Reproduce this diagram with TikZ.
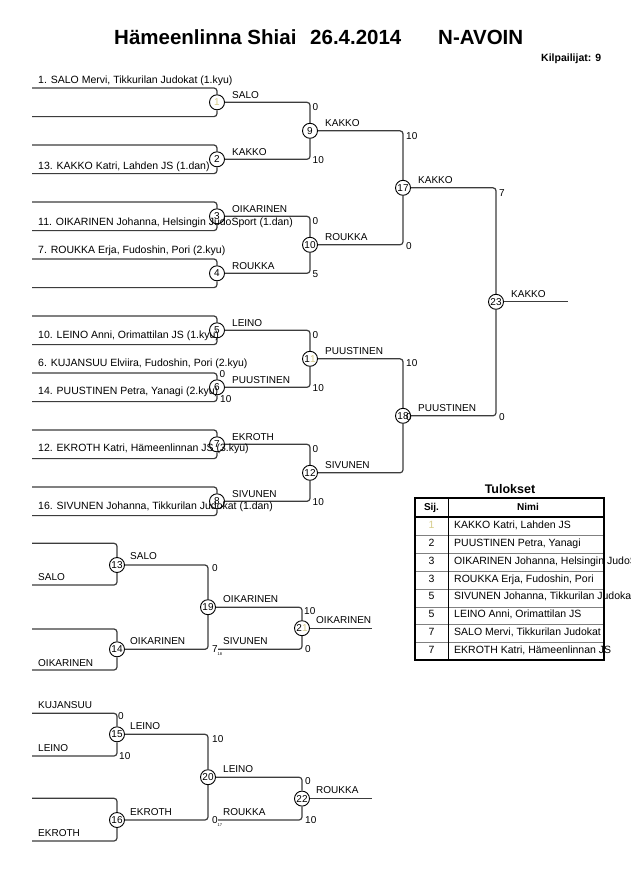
\documentclass[tikz,border=0pt]{standalone}
\usepackage{fontspec}
\setmainfont{Liberation Sans}
\definecolor{pale}{RGB}{215,205,140}
\definecolor{lncol}{RGB}{60,60,60}
\tikzset{
  ln/.style={draw=lncol, line width=1.2pt, rounded corners=3pt},
  mc/.style={circle, draw=black, fill=white, line width=0.9pt, minimum size=15pt, inner sep=0pt, font=\fontsize{10}{10}\selectfont},
  ctext/.style={anchor=base west, inner sep=0pt, font=\fontsize{10.5}{12}\selectfont},
  lab/.style={anchor=base west, inner sep=0pt, font=\fontsize{10}{12}\selectfont},
  sc/.style={anchor=base west, inner sep=0pt, font=\fontsize{10}{12}\selectfont},
  subsc/.style={anchor=base west, inner sep=0pt, font=\fontsize{4}{4}\selectfont},
  ttl/.style={anchor=base west, inner sep=0pt, font=\bfseries\fontsize{20.5}{22}\selectfont},
  bsm/.style={anchor=base west, inner sep=0pt, font=\bfseries\fontsize{10.5}{12}\selectfont},
  cell/.style={anchor=base west, inner sep=0pt, font=\fontsize{10.5}{12}\selectfont},
  cellc/.style={anchor=base, inner sep=0pt, font=\fontsize{10.5}{12}\selectfont},
}
\begin{document}
\begin{tikzpicture}[x=1pt,y=-1pt]
\fill[white] (0,0) rectangle (630,891);
\useasboundingbox (0,0) rectangle (630,891);

% title
\node[ttl] (t1) at (114,44.5) {Hämeenlinna Shiai};
\node[ttl] (t2) at (310,44.5) {26.4.2014};
\node[ttl] (t3) at (438,44.5) {N-AVOIN};
\node[bsm] (kp) at (541,61.7) {Kilpailijat: 9};

% main bracket circles
\node[mc] (c1) at (217,102.3) {\textcolor{pale}{1}};
\node[mc] (c2) at (217,159.3) {2};
\node[mc] (c3) at (217,216.3) {3};
\node[mc] (c4) at (217,273.3) {4};
\node[mc] (c5) at (217,330.3) {5};
\node[mc] (c6) at (217,387.3) {6};
\node[mc] (c7) at (217,444.3) {7};
\node[mc] (c8) at (217,501.3) {8};
\node[mc] (c9) at (310,130.8) {9};
\node[mc] (c10) at (310,244.8) {10};
\node[mc] (c11) at (310,358.8) {1\textcolor{pale}{1}};
\node[mc] (c12) at (310,472.8) {12};
\node[mc] (c17) at (403,187.8) {17};
\node[mc] (c18) at (403,415.8) {18};
\node[mc] (c23) at (496,301.8) {23};

% repechage circles
\node[mc] (c13) at (117,565) {13};
\node[mc] (c14) at (117,649.3) {14};
\node[mc] (c15) at (117,734.3) {15};
\node[mc] (c16) at (117,820) {16};
\node[mc] (c19) at (208,607.2) {19};
\node[mc] (c20) at (208,777.2) {20};
\node[mc] (c21) at (302,628.2) {2\textcolor{pale}{1}};
\node[mc] (c22) at (302,798.6) {22};

% start / end coordinates
\foreach \k in {1,...,8}{
  \pgfmathsetmacro{\ya}{88+57*(\k-1)}
  \pgfmathsetmacro{\yb}{88+57*(\k-1)+28.6}
  \coordinate (p\k a) at (32,\ya);
  \coordinate (p\k b) at (32,\yb);
}
\coordinate (q13a) at (32,543.3);
\coordinate (q13b) at (32,585);
\coordinate (q14a) at (32,629);
\coordinate (q14b) at (32,670);
\coordinate (q15a) at (32,713.3);
\coordinate (q15b) at (32,756);
\coordinate (q16a) at (32,798.3);
\coordinate (q16b) at (32,841);
\coordinate (s21) at (218,649.3);
\coordinate (s22) at (218,820);
\coordinate (e23) at (568,301.8);
\coordinate (e21) at (372,628.2);
\coordinate (e22) at (372,798.6);

% first round lines
\foreach \k in {1,...,8}{
  \draw[ln] (p\k a) -| (c\k);
  \draw[ln] (p\k b) -| (c\k);
}
\foreach \a/\b in {c1/c9,c2/c9,c3/c10,c4/c10,c5/c11,c6/c11,c7/c12,c8/c12,
                   c9/c17,c10/c17,c11/c18,c12/c18,c17/c23,c18/c23,
                   q13a/c13,q13b/c13,q14a/c14,q14b/c14,q15a/c15,q15b/c15,q16a/c16,q16b/c16,
                   c13/c19,c14/c19,c19/c21,s21/c21,c15/c20,c16/c20,c20/c22,s22/c22}{
  \draw[ln] (\a) -| (\b);
}
\draw[ln] (c23) -- (e23);
\draw[ln] (c21) -- (e21);
\draw[ln] (c22) -- (e22);

% competitor texts
\node[ctext] (n1) at (38,83) {1. SALO Mervi, Tikkurilan Judokat (1.kyu)};
\node[ctext] (n13) at (38,169) {13. KAKKO Katri, Lahden JS (1.dan)};
\node[ctext] (n11) at (38,225) {11. OIKARINEN Johanna, Helsingin JudoSport (1.dan)};
\node[ctext] (n7) at (38,253) {7. ROUKKA Erja, Fudoshin, Pori (2.kyu)};
\node[ctext] (n10) at (38,338) {10. LEINO Anni, Orimattilan JS (1.kyu)};
\node[ctext] (n6) at (38,366.5) {6. KUJANSUU Elviira, Fudoshin, Pori (2.kyu)};
\node[ctext] (n14) at (38,394) {14. PUUSTINEN Petra, Yanagi (2.kyu)};
\node[ctext] (n12) at (38,451.5) {12. EKROTH Katri, Hämeenlinnan JS (3.kyu)};
\node[ctext] (n16) at (38,509) {16. SIVUNEN Johanna, Tikkurilan Judokat (1.dan)};

% winner labels main
\node[lab] (l1) at (232,98.3) {SALO};
\node[lab] (l2) at (232,155.3) {KAKKO};
\node[lab] (l3) at (232,212.3) {OIKARINEN};
\node[lab] (l4) at (232,269.3) {ROUKKA};
\node[lab] (l5) at (232,326.3) {LEINO};
\node[lab] (l6) at (232,383.3) {PUUSTINEN};
\node[lab] (l7) at (232,440.3) {EKROTH};
\node[lab] (l8) at (232,497.3) {SIVUNEN};
\node[lab] (l9) at (325,126.7) {KAKKO};
\node[lab] (l10) at (325,240.7) {ROUKKA};
\node[lab] (l11) at (325,354.7) {PUUSTINEN};
\node[lab] (l12) at (325,468.7) {SIVUNEN};
\node[lab] (l17) at (418,183.5) {KAKKO};
\node[lab] (l18) at (418,411.5) {PUUSTINEN};
\node[lab] (l23) at (511,297.5) {KAKKO};

% scores main
\node[sc] (s6a) at (219.5,377.7) {0};
\node[sc] (s6b) at (220,402.3) {10};
\node[sc] (s9a) at (312.5,110) {0};
\node[sc] (s9b) at (312.5,163.3) {10};
\node[sc] (s10a) at (312.5,224.3) {0};
\node[sc] (s10b) at (312.5,277.3) {5};
\node[sc] (s11a) at (312.5,338.3) {0};
\node[sc] (s11b) at (312.5,391.3) {10};
\node[sc] (s12a) at (312.5,452.3) {0};
\node[sc] (s12b) at (312.5,505.3) {10};
\node[sc] (s17a) at (406,139.3) {10};
\node[sc] (s17b) at (406,249.3) {0};
\node[sc] (s18a) at (406,366.8) {10};
\node[sc] (s18b) at (406,420.3) {0};
\node[sc] (s23a) at (499,196) {7};
\node[sc] (s23b) at (499,420.3) {0};

% repechage texts
\node[lab] (r13) at (38,580) {SALO};
\node[lab] (r14) at (38,666.7) {OIKARINEN};
\node[lab] (r15a) at (38,708.3) {KUJANSUU};
\node[lab] (r15b) at (38,751.7) {LEINO};
\node[lab] (r16) at (38,836.7) {EKROTH};
\node[lab] (rl13) at (130,559.3) {SALO};
\node[lab] (rl14) at (130,644) {OIKARINEN};
\node[lab] (rl15) at (130,729.3) {LEINO};
\node[lab] (rl16) at (130,815.7) {EKROTH};
\node[lab] (rl19) at (223,602.3) {OIKARINEN};
\node[lab] (rl19b) at (223,644.3) {SIVUNEN};
\node[lab] (rl20) at (223,772.7) {LEINO};
\node[lab] (rl20b) at (223,815.7) {ROUKKA};
\node[lab] (rl21) at (316,623.3) {OIKARINEN};
\node[lab] (rl22) at (316,793.3) {ROUKKA};

% repechage scores
\node[sc] (rs19a) at (212,571.7) {0};
\node[sc] (rs19b) at (212,652.3) {7};
\node[subsc] (rs19c) at (217.5,655) {18};
\node[sc] (rs21a) at (304,614.3) {10};
\node[sc] (rs21b) at (305,652.3) {0};
\node[sc] (rs15a) at (118,719) {0};
\node[sc] (rs15b) at (119,759.3) {10};
\node[sc] (rs20a) at (212,742.7) {10};
\node[sc] (rs20b) at (212,823.3) {0};
\node[subsc] (rs20c) at (217.5,826) {17};
\node[sc] (rs22a) at (305,784) {0};
\node[sc] (rs22b) at (305,823.3) {10};

% results table
\node[anchor=base, inner sep=0pt, font=\bfseries\fontsize{12.5}{14}\selectfont] (tul) at (510,493) {Tulokset};
\foreach \y in {535,553,571,589,607,624.5,642}{
  \draw[gray, line width=0.8pt] (415,\y) -- (604,\y);
}
\draw[black, line width=1.2pt] (415,517) -- (604,517);
\draw[black, line width=0.9pt] (448,498) -- (448,660);
\node[anchor=base, inner sep=0pt, font=\bfseries\fontsize{10}{12}\selectfont] (hs) at (431.5,510.7) {Sij.};
\node[anchor=base, inner sep=0pt, font=\bfseries\fontsize{10}{12}\selectfont] (hn) at (528,510.7) {Nimi};
\foreach \r/\n/\t in {0/\textcolor{pale}{1}/KAKKO Katri{,} Lahden JS,
                      1/2/PUUSTINEN Petra{,} Yanagi,
                      2/3/OIKARINEN Johanna{,} Helsingin JudoSport,
                      3/3/ROUKKA Erja{,} Fudoshin{,} Pori,
                      4/5/SIVUNEN Johanna{,} Tikkurilan Judokat,
                      5/5/LEINO Anni{,} Orimattilan JS,
                      6/7/SALO Mervi{,} Tikkurilan Judokat,
                      7/7/EKROTH Katri{,} Hämeenlinnan JS}{
  \pgfmathsetmacro{\yy}{528.3+17.9*\r}
  \node[cellc] (tr\r) at (431.5,\yy) {\n};
  \node[cell] (tn\r) at (454,\yy) {\t};
}
\draw[black, line width=1.8pt] (415,498) rectangle (604,660);
\end{tikzpicture}
\end{document}
